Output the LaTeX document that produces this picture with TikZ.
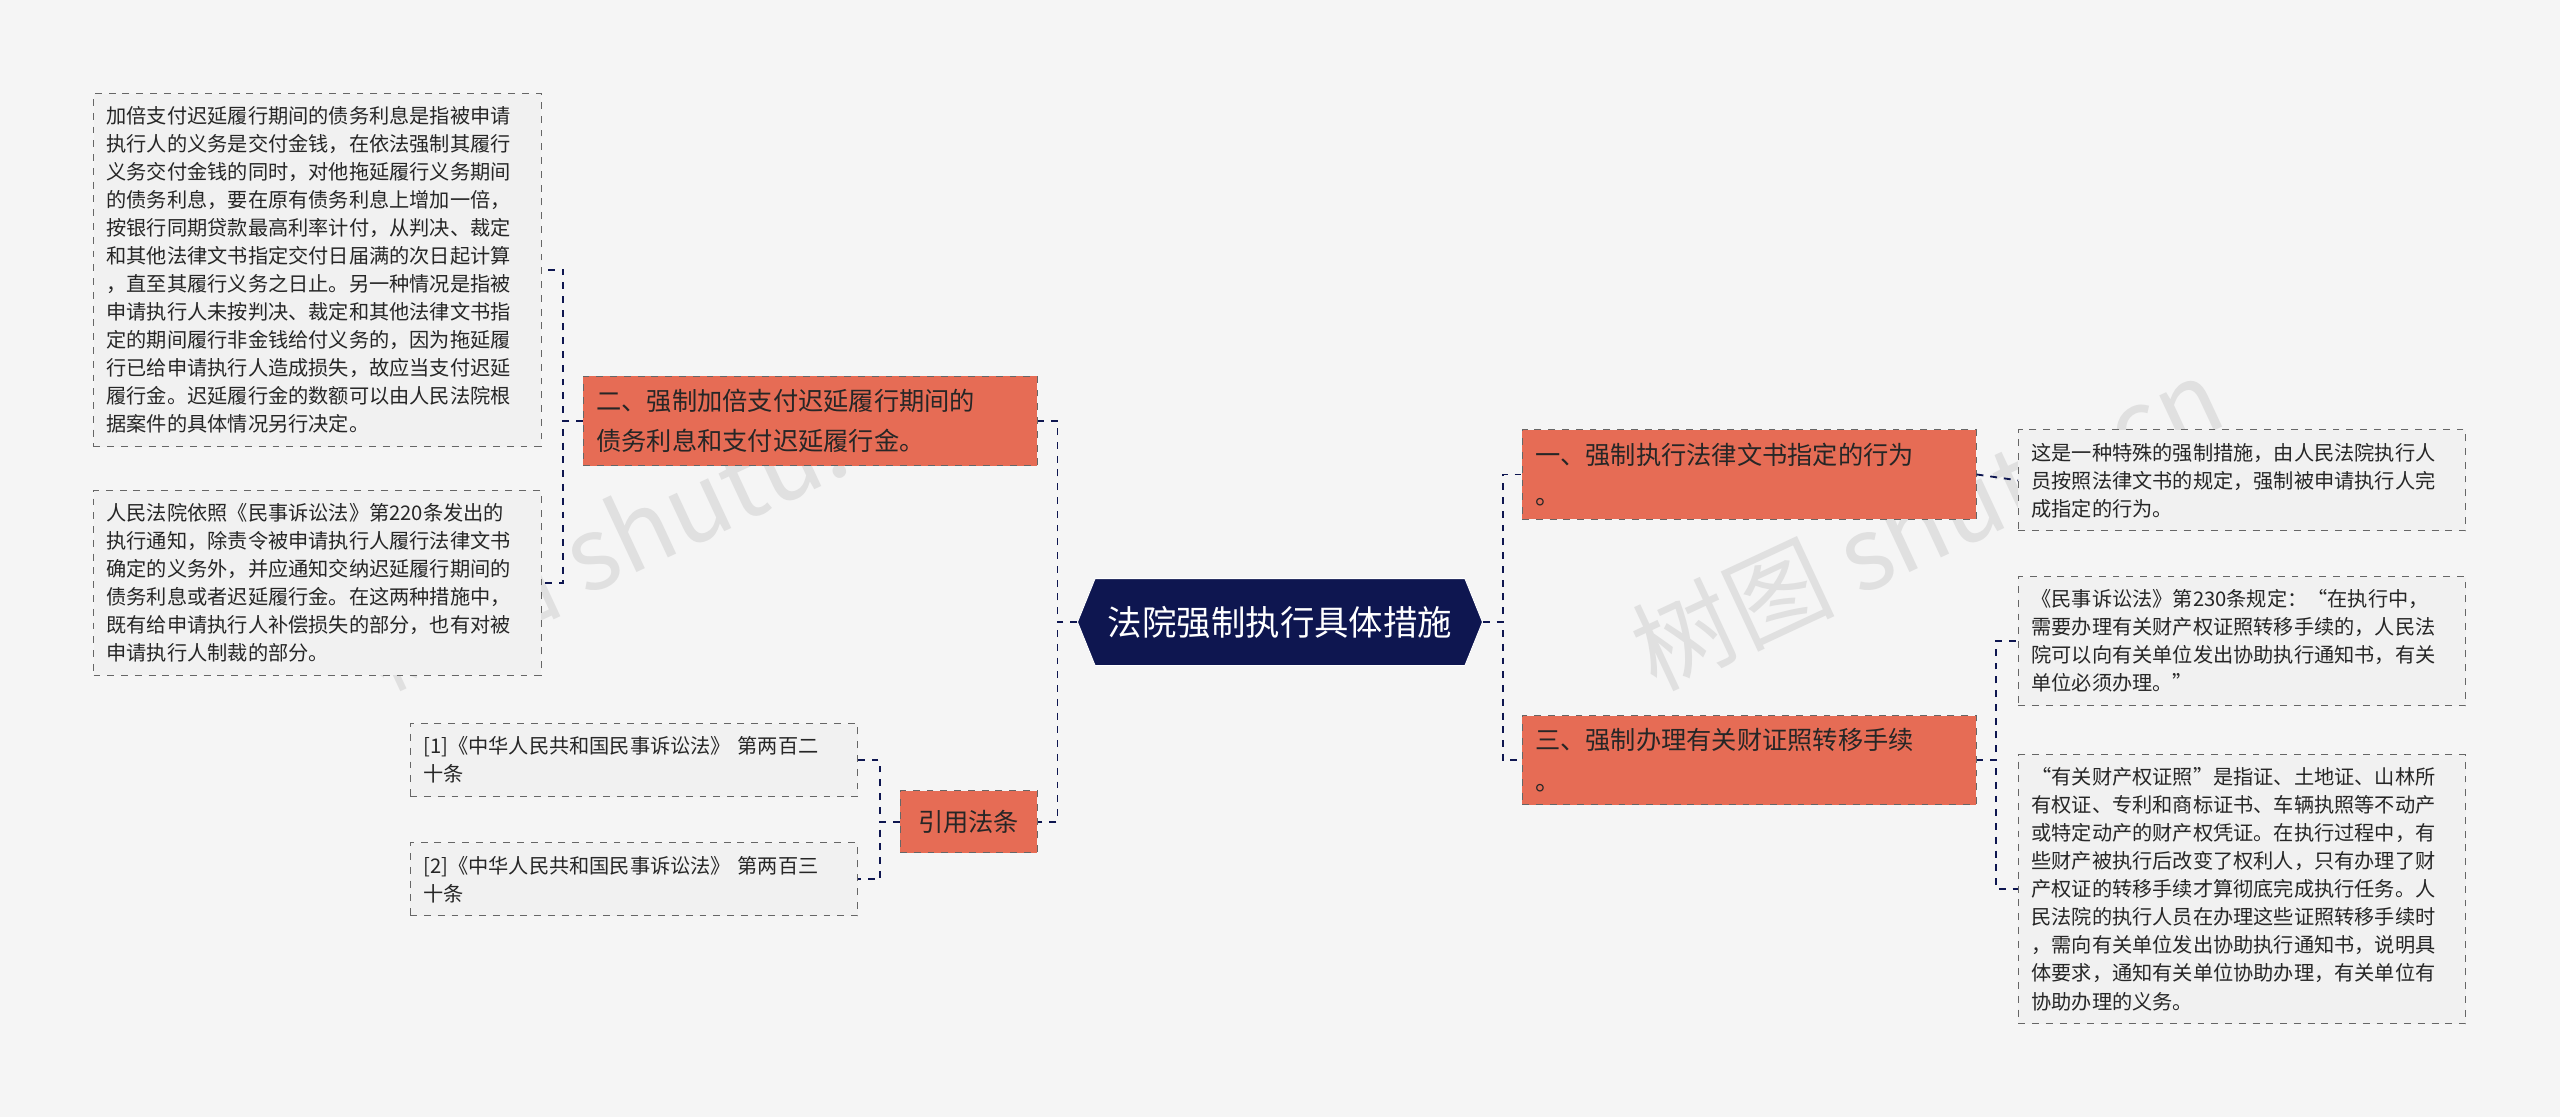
\documentclass[tikz,border=0pt]{standalone}
\usepackage{fontspec}
\setmainfont{Noto Sans CJK SC}
\usetikzlibrary{shapes.symbols, positioning}
\definecolor{navy}{HTML}{0E1650}
\definecolor{salmon}{HTML}{E66C55}
\definecolor{leafbg}{HTML}{F1F1F1}
\definecolor{pagebg}{HTML}{F5F5F5}
\tikzset{
  rootbox/.style={signal, signal to=west and east, signal pointer angle=136,
                  fill=navy, draw=white, text=white, minimum width=6.2cm,
                  minimum height=1.33cm, inner xsep=2pt,
                  font=\fontsize{15}{18}\selectfont},
  branch/.style={rectangle, draw=black!60, dashed, fill=salmon,
                 text=black!85, align=left, inner sep=0.2cm,
                 font=\fontsize{11}{17.5}\selectfont},
  leaf/.style={rectangle, draw=black!60, dashed, fill=leafbg,
               text=black!85, align=left, text width=6.45cm, inner sep=0.2cm,
               font=\fontsize{8.8}{12.2}\selectfont},
  link/.style={draw=navy, dashed, thick},
}
\begin{document}
\begin{tikzpicture}[x=0.025cm, y=-0.025cm]
  \fill[pagebg] (0,0) rectangle (1568,684);
  \useasboundingbox (0,0) rectangle (1568,684);

  % --- Watermarks ---
  \node[rotate=25, text=black!12, font=\fontsize{44}{44}\selectfont] (wm1) at (400,320) {树图 shutu.cn};
  \node[rotate=25, text=black!12, font=\fontsize{44}{44}\selectfont] (wm2) at (1180,320) {树图 shutu.cn};

  % --- Nodes ---
  \node[rootbox] (root) at (784,381) {法院强制执行具体措施};

  \node[branch, text width=6.55cm, anchor=north west] (b2) at (357,230)
    {二、强制加倍支付迟延履行期间的\\债务利息和支付迟延履行金。};
  \node[branch, anchor=north west, minimum height=0.95cm, minimum width=2.1cm] (cite) at (551,484) {引用法条};
  \node[branch, text width=6.55cm, anchor=north west] (b1) at (932,263)
    {一、强制执行法律文书指定的行为\\。};
  \node[branch, text width=6.55cm, anchor=north west] (b3) at (932,438)
    {三、强制办理有关财证照转移手续\\。};

  \node[leaf, anchor=north west] (l1) at (57,57)
    {加倍支付迟延履行期间的债务利息是指被申请\\执行人的义务是交付金钱，在依法强制其履行\\义务交付金钱的同时，对他拖延履行义务期间\\的债务利息，要在原有债务利息上增加一倍，\\按银行同期贷款最高利率计付，从判决、裁定\\和其他法律文书指定交付日届满的次日起计算\\，直至其履行义务之日止。另一种情况是指被\\申请执行人未按判决、裁定和其他法律文书指\\定的期间履行非金钱给付义务的，因为拖延履\\行已给申请执行人造成损失，故应当支付迟延\\履行金。迟延履行金的数额可以由人民法院根\\据案件的具体情况另行决定。};
  \node[leaf, anchor=north west] (l2) at (57,300)
    {人民法院依照《民事诉讼法》第220条发出的\\执行通知，除责令被申请执行人履行法律文书\\确定的义务外，并应通知交纳迟延履行期间的\\债务利息或者迟延履行金。在这两种措施中，\\既有给申请执行人补偿损失的部分，也有对被\\申请执行人制裁的部分。};
  \node[leaf, anchor=north west] (c1) at (251,443)
    {[1]《中华人民共和国民事诉讼法》 第两百二\\十条};
  \node[leaf, anchor=north west] (c2) at (251,516)
    {[2]《中华人民共和国民事诉讼法》 第两百三\\十条};
  \node[leaf, anchor=north west] (r1) at (1236,263)
    {这是一种特殊的强制措施，由人民法院执行人\\员按照法律文书的规定，强制被申请执行人完\\成指定的行为。};
  \node[leaf, anchor=north west] (r2) at (1236,353)
    {《民事诉讼法》第230条规定：“在执行中，\\需要办理有关财产权证照转移手续的，人民法\\院可以向有关单位发出协助执行通知书，有关\\单位必须办理。”};
  \node[leaf, anchor=north west] (r3) at (1236,462)
    {“有关财产权证照”是指证、土地证、山林所\\有权证、专利和商标证书、车辆执照等不动产\\或特定动产的财产权凭证。在执行过程中，有\\些财产被执行后改变了权利人，只有办理了财\\产权证的转移手续才算彻底完成执行任务。人\\民法院的执行人员在办理这些证照转移手续时\\，需向有关单位发出协助执行通知书，说明具\\体要求，通知有关单位协助办理，有关单位有\\协助办理的义务。};

  % --- Edges ---
  \draw[link] (root.west) -- ++(-12,0) |- (b2.east);
  \draw[link] (root.west) -- ++(-12,0) |- (cite.east);
  \draw[link] (root.east) -- ++(12,0) |- (b1.west);
  \draw[link] (root.east) -- ++(12,0) |- (b3.west);
  \draw[link] (b2.west) -- ++(-12,0) |- (l1.east);
  \draw[link] (b2.west) -- ++(-12,0) |- (l2.east);
  \draw[link] (cite.west) -- ++(-12,0) |- (c1.east);
  \draw[link] (cite.west) -- ++(-12,0) |- (c2.east);
  \draw[link] (b1.east) -- (r1.west);
  \draw[link] (b3.east) -- ++(12,0) |- (r2.west);
  \draw[link] (b3.east) -- ++(12,0) |- (r3.west);

\end{tikzpicture}
\end{document}
